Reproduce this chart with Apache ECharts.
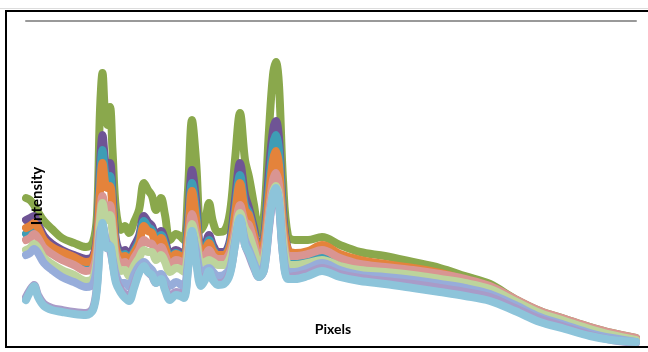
<!DOCTYPE html>
<html>
<head>
<meta charset="utf-8">
<title>Spectra</title>
<style>
  html, body { margin: 0; padding: 0; background: #fff; }
  #main { width: 648px; height: 352px; }
</style>
</head>
<body>
<div id="main"></div>
<script src="https://cdn.jsdelivr.net/npm/echarts@6/dist/echarts.min.js"></script>
<script type="text/javascript">
// detector pixel positions
var pixels = [0,4,8,12,18,26,36,48,60,67, 71,74,76.5,79,81,84,86.5,90,95,99,
	103,108,113,118,122,126,130,135,139,144, 150,154,158,162,166,170,175,179,183,187,
	192,198,204,209,214,219,223,228,233,238, 243,247,250,253,257,262,269,282,296,314,
	334,359,387,414,439,464,489,514,539,564, 586,610];

// intensity of each spectrum
var greenSpec = [147,145,140,133,124,116,107,102,98,103, 130,235,272,230,220,238,195,135,115,119,
	112,123,135,162,155,149,135,147,130,105, 111,109,105,155,225,185,115,123,142,123,
	113,114,133,185,232,185,168,140,112,130, 215,270,283,260,165,109,105,105,108,100,
	93,89,83,77,69,61,46,34,26,18, 12,7];
var purpleSpec = [125,127,129,121,109,101,95,90,86,89, 110,180,210,185,177,182,150,105,93,95,
	89,99,109,129,123,119,109,114,105,91, 95,93,89,125,175,145,97,100,110,100,
	93,93,105,145,182,150,137,117,95,107, 175,215,224,207,135,95,91,92,95,88,
	83,80,75,71,64,57,45,33,25,17, 11,6];
var tealSpec = [111,113,116,111,101,95,89,84,79,82, 103,167,195,173,165,169,140,99,89,91,
	85,94,104,124,118,115,105,110,101,88, 92,90,86,117,162,135,94,97,105,96,
	90,90,101,135,170,140,132,112,92,103, 160,200,210,195,127,89,85,85,88,82,
	77,74,70,66,61,55,44,32,24,16, 10,5];
var orangeSpec = [117,119,122,117,105,98,93,88,83,86, 105,155,182,163,157,159,135,97,88,89,
	84,92,101,119,114,112,101,107,98,86, 91,89,86,111,154,127,93,95,102,94,
	90,90,99,130,162,135,130,110,95,102, 150,185,194,180,123,95,92,94,100,91,
	85,81,77,72,65,58,45,33,25,17, 11,6];
var pinkSpec = [105,107,111,107,97,91,85,80,74,77, 95,130,149,137,133,140,120,90,82,83,
	77,87,95,105,102,101,93,98,90,80, 85,84,81,100,131,113,87,89,95,89,
	86,86,93,115,140,123,120,103,88,95, 135,165,172,160,113,89,89,91,95,87,
	81,78,75,71,66,59,46,34,26,18, 12,7];
var lightGreenSpec = [95,97,101,97,87,81,75,70,64,67, 87,123,142,130,125,130,113,83,74,75,
	69,79,87,95,93,93,85,90,83,73, 77,76,73,92,121,105,82,83,85,83,
	80,80,87,107,132,117,110,95,82,87, 125,153,159,149,105,81,80,82,85,79,
	75,73,70,66,62,56,44,32,24,16, 10,5];
var lavenderSpec = [90,92,96,92,82,75,68,63,58,61, 80,113,119,109,102,99,87,70,62,62,
	58,70,79,83,79,75,69,71,65,59, 63,61,58,82,112,95,73,75,77,73,
	69,70,77,103,125,105,95,82,72,80, 120,150,155,142,95,73,73,77,82,75,
	70,68,65,61,57,51,40,28,20,12, 7,3];
var lightPurpleSpec = [48,55,60,50,41,37,35,33,32,37, 60,105,119,105,97,95,83,65,55,51,
	48,60,73,79,73,69,62,65,57,49, 53,52,50,77,112,87,63,68,73,65,
	62,63,73,100,125,100,90,77,68,75, 117,148,155,140,90,68,69,72,77,71,
	67,64,61,57,53,48,37,26,18,10, 5,2];
var lightBlueSpec = [45,53,59,48,39,35,33,31,30,35, 57,102,122,105,97,99,83,62,52,47,
	44,57,72,79,73,70,62,66,55,45, 50,49,47,75,114,85,59,65,74,65,
	60,61,71,100,127,100,92,79,68,75, 120,150,157,142,90,66,66,69,74,68,
	64,61,57,53,49,44,34,23,16,9, 5,3];

var spectra = [
	{name: 'S1', data: greenSpec, color: '#8AA84C'},
	{name: 'S2', data: purpleSpec, color: '#6F5495'},
	{name: 'S3', data: tealSpec, color: '#3E9DB5'},
	{name: 'S4', data: orangeSpec, color: '#E4833B'},
	{name: 'S5', data: pinkSpec, color: '#D99592'},
	{name: 'S6', data: lightGreenSpec, color: '#BDD49C'},
	{name: 'S7', data: lavenderSpec, color: '#97ADDA'},
	{name: 'S8', data: lightPurpleSpec, color: '#A99BC8'},
	{name: 'S9', data: lightBlueSpec, color: '#8DC4DA'}
];

function pairUp(values){
	var arr = [];
	for(var i = 0; i < pixels.length; i++){
		arr.push([pixels[i], values[i]]);
	}
	return arr;
}

var seriesList = spectra.map(function(s){
	return {
		name: s.name,
		type: 'line',
		data: pairUp(s.data),
		smooth: 0.35,
		showSymbol: false,
		clip: true,
		lineStyle: {color: s.color, width: 8, join: 'round', cap: 'round'},
		itemStyle: {color: s.color}
	};
});

var myChart = echarts.init(document.getElementById('main'));
var option = {
	animation: false,
	backgroundColor: '#fff',
	grid: {left: 26, right: 12, top: 21, bottom: 7},
	xAxis: {
		type: 'value',
		position: 'top',
		min: 0,
		max: 610,
		axisLine: {show: true, onZero: false, lineStyle: {color: '#999', width: 2}},
		axisTick: {show: false},
		axisLabel: {show: false},
		splitLine: {show: false}
	},
	yAxis: {
		type: 'value',
		min: 0,
		max: 324,
		axisLine: {show: false},
		axisTick: {show: false},
		axisLabel: {show: false},
		splitLine: {show: false}
	},
	graphic: [
		{type: 'line', shape: {x1: 0, y1: 8.5, x2: 648, y2: 8.5}, style: {stroke: '#ddd', lineWidth: 1}, silent: true},
		{type: 'rect', shape: {x: 6, y: 11, width: 700, height: 336}, style: {fill: 'none', stroke: '#000', lineWidth: 2}, silent: true, z: 100},
		{type: 'text', x: 37, y: 196, rotation: Math.PI / 2, z: 100,
			style: {text: 'Intensity', font: 'bold 15px Lato', fill: '#000', align: 'center', verticalAlign: 'middle'}},
		{type: 'text', x: 333, y: 329, z: 100,
			style: {text: 'Pixels', font: 'bold 14px Lato', fill: '#000', align: 'center', verticalAlign: 'middle'}}
	],
	series: seriesList
};
myChart.setOption(option);
</script>
</body>
</html>
